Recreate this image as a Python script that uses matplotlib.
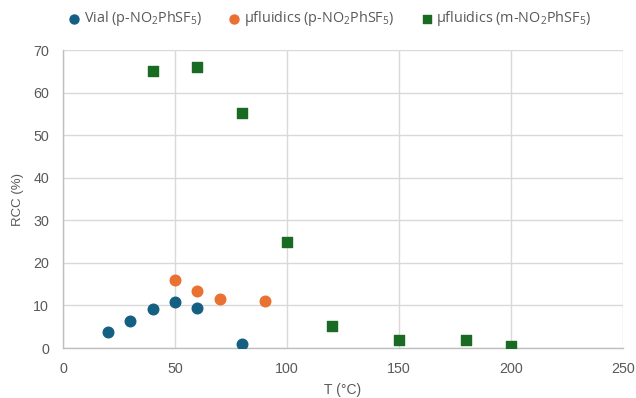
import matplotlib.pyplot as plt

plt.rcParams['font.family'] = ['Liberation Sans', 'DejaVu Sans']
plt.rcParams['mathtext.default'] = 'regular'

# data
vial_t = [20, 30, 40, 50, 60, 80]
vial_rcc = [3.8, 6.4, 9.1, 10.9, 9.5, 1.0]

flu_p_t = [50, 60, 70, 90]
flu_p_rcc = [16.0, 13.5, 11.4, 11.0]

flu_m_t = [40, 60, 80, 100, 120, 150, 180, 200]
flu_m_rcc = [65.0, 66.0, 55.3, 25.0, 5.2, 1.9, 1.9, 0.5]

x_ticks = [0, 50, 100, 150, 200, 250]
y_ticks = [0, 10, 20, 30, 40, 50, 60, 70]

fig = plt.figure(figsize=(6.36, 3.98), dpi=100)
ax = fig.add_axes([63 / 636, 1 - 348 / 398, 560 / 636, 298 / 398])

ax.scatter(vial_t, vial_rcc, s=58, marker='o', color='#156082',
           label='Vial (p-NO$_2$PhSF$_5$)', zorder=3)
ax.scatter(flu_p_t, flu_p_rcc, s=58, marker='o', color='#E97132',
           label='µfluidics (p-NO$_2$PhSF$_5$)', zorder=3)
ax.scatter(flu_m_t, flu_m_rcc, s=58, marker='s', color='#196B24',
           label='µfluidics (m-NO$_2$PhSF$_5$)', zorder=3)

ax.set_xlim(0, 250)
ax.set_ylim(0, 70)
ax.set_xticks(x_ticks)
ax.set_yticks(y_ticks)
ax.grid(True, color='#D9D9D9', linewidth=1, zorder=0)
ax.set_axisbelow(True)
for side in ['top', 'right']:
    ax.spines[side].set_visible(False)
for side in ['left', 'bottom']:
    ax.spines[side].set_color('#BFBFBF')
    ax.spines[side].set_linewidth(1)
ax.tick_params(length=0, labelsize=10.3, colors='#595959', pad=10)

ax.set_xlabel('T (°C)', fontsize=10, color='#595959', labelpad=5)
ax.set_ylabel('RCC (%)', fontsize=9.5, color='#595959', labelpad=7)

leg = fig.legend(*ax.get_legend_handles_labels(), loc='center',
                 bbox_to_anchor=(330 / 636, 1 - 19 / 398), ncol=3, frameon=False,
                 prop={'family': ['Open Sans', 'DejaVu Sans'], 'size': 10.4},
                 labelcolor='#595959', handlelength=0.7, handletextpad=0.3,
                 columnspacing=1.9, markerscale=0.85)

fig.savefig('out.png', dpi=100)
